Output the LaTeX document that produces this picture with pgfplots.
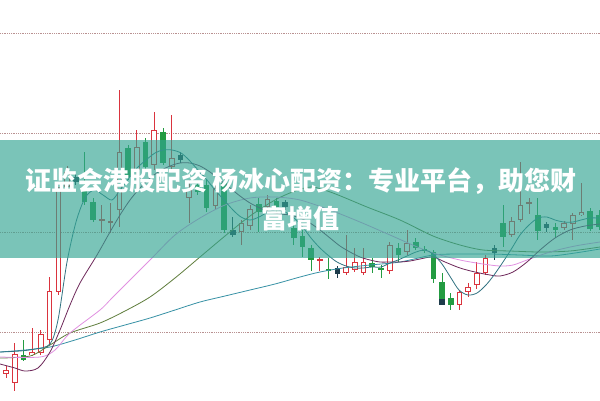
\documentclass[border=0pt]{standalone}
\usepackage{pgfplots}
\usepackage{pgfplotstable}
\pgfplotsset{compat=1.18}
\usepackage{fontspec}
\newfontfamily\cjk{Noto Sans CJK SC}
\definecolor{candred}{RGB}{218,52,62}
\definecolor{candgreen}{RGB}{35,155,65}
\definecolor{canddark}{RGB}{30,60,75}
\definecolor{gridc}{RGB}{185,145,145}
\definecolor{maA}{RGB}{50,115,130}
\definecolor{maB}{RGB}{110,40,90}
\definecolor{maC}{RGB}{225,145,225}
\definecolor{maD}{RGB}{95,125,60}
\definecolor{maE}{RGB}{55,145,165}
\definecolor{banner}{RGB}{51,165,146}

\pgfplotstableread{
x t b h l
6 370 374 366 378
14.7 354 383 343 391
32.2 352 355 328 356
40.9 334 353 330 355
49.6 291 340 277 345
58.3 187 292 187 295
67 172 187 166 190
101.9 219 221 205 233
110.6 221 223 203 233
119.4 152 210 90 227
136.8 147 170 130 190
154.2 130 165 112 170
171.7 158 167 115 172
189.1 190 198 180 223
215.3 188 206 183 210
241.4 223 232 220 245
250.2 209 226 205 230
267.6 199 207 195 212
319.9 259 261 257 271
346.1 267 273 235 275
354.8 262 270 248 272
363.5 262 273 248 275
389.7 245 271 242 274
407.1 243 252 230 255
459.4 292 305 290 310
468.2 287 292 283 297
476.9 273 285 262 289
485.6 258 273 255 275
511.8 221 235 217 237
520.5 205 220 162 222
529.2 202 204 198 214
564.1 223 228 221 230
572.8 215 224 213 240
581.5 212 215 183 216
}\redtab

\pgfplotstableread{
x t b h l
23.4 355 360 340 361
84.5 187 202 152 205
93.2 202 220 198 222
128.1 148 177 145 180
145.5 142 167 138 170
163 132 163 128 165
197.8 185 192 182 195
206.6 185 208 180 212
224 183 230 178 233
258.9 204 212 198 232
276.3 201 207 198 212
293.8 228 238 222 245
302.5 236 247 230 257
311.2 248 260 245 271
328.6 269 271 258 279
372.2 263 267 258 273
381 268 270 265 278
398.4 248 255 243 262
415.8 242 248 238 250
424.6 249 251 246 253
433.3 252 279 250 283
442 282 299 273 305
450.7 298 305 293 310
503 223 237 205 247
537.9 215 231 198 240
555.4 227 230 223 238
590.2 211 229 208 231
599 215 227 210 230
}\greentab

\pgfplotstableread{
x t b h l
75.8 177 182 174 185
180.4 155 160 152 163
232.7 230 235 217 237
285 202 207 200 210
337.4 268 274 266 278
494.3 248 253 245 260
546.6 224 228 222 232
442 299 305 299 305
}\darktab

\pgfplotsset{candle/.style={draw=none, mark=none, forget plot,
  error bars/.cd, y dir=both, y explicit, error mark=none}}

\begin{document}
\begin{tikzpicture}
\begin{axis}[
  scale only axis, width=600pt, height=400pt,
  xmin=0, xmax=600, ymin=0, ymax=400, y dir=reverse,
  hide axis, clip=true,
]
\fill[white] (rel axis cs:0,0) rectangle (rel axis cs:1,1);
% grid lines
\addplot[gridc, densely dotted, line width=0.8pt] coordinates {(0,33) (600,33)};
\addplot[gridc, densely dotted, line width=0.8pt] coordinates {(0,133) (600,133)};
\addplot[gridc, densely dotted, line width=0.8pt] coordinates {(0,232) (600,232)};
\addplot[gridc, densely dotted, line width=0.8pt] coordinates {(0,332) (600,332)};

% wicks
\addplot[candle, error bar style={line width=0.9pt, draw=candred, solid}]
  table[x=x, y expr=(\thisrow{h}+\thisrow{l})/2, y error expr=(\thisrow{l}-\thisrow{h})/2] {\redtab};
\addplot[candle, error bar style={line width=0.9pt, draw=candgreen, solid}]
  table[x=x, y expr=(\thisrow{h}+\thisrow{l})/2, y error expr=(\thisrow{l}-\thisrow{h})/2] {\greentab};
\addplot[candle, error bar style={line width=0.9pt, draw=canddark, solid}]
  table[x=x, y expr=(\thisrow{h}+\thisrow{l})/2, y error expr=(\thisrow{l}-\thisrow{h})/2] {\darktab};
% bodies
\addplot[candle, error bar style={line width=5.6pt, draw=candred, solid}]
  table[x=x, y expr=(\thisrow{t}+\thisrow{b})/2, y error expr={max((\thisrow{b}-\thisrow{t})/2,1)}] {\redtab};
\addplot[candle, error bar style={line width=3.6pt, draw=white, solid}]
  table[x=x, y expr=(\thisrow{t}+\thisrow{b})/2, y error expr={max((\thisrow{b}-\thisrow{t})/2-1,0)}] {\redtab};
\addplot[candle, error bar style={line width=5.6pt, draw=candgreen, solid}]
  table[x=x, y expr=(\thisrow{t}+\thisrow{b})/2, y error expr={max((\thisrow{b}-\thisrow{t})/2,1)}] {\greentab};
\addplot[candle, error bar style={line width=5.6pt, draw=canddark, solid}]
  table[x=x, y expr=(\thisrow{t}+\thisrow{b})/2, y error expr={max((\thisrow{b}-\thisrow{t})/2,1)}] {\darktab};

% moving averages
\addplot[maE, line width=0.8pt, smooth] coordinates {(0,352) (25,350) (50,347) (75,340) (100,332) (125,325) (150,318) (175,310) (200,302) (225,296) (250,290) (275,284) (300,277) (320,272) (343,268) (370,265) (400,262) (433,255) (460,254) (490,254) (520,255) (550,256) (575,253) (600,249)};
\addplot[maD, line width=0.8pt, smooth] coordinates {(0,358) (30,356) (50,345) (70,333) (100,323) (125,311) (150,297) (175,278) (200,257) (225,236) (250,216) (275,200) (295,191) (312,187) (333,193) (367,207) (400,220) (433,236) (460,245) (483,250) (510,251) (540,252) (570,251) (600,247)};
\addplot[maC, line width=0.8pt, smooth] coordinates {(0,357) (40,357) (55,350) (70,333) (100,310) (113,297) (150,260) (175,235) (200,218) (225,205) (250,198) (275,197) (300,200) (330,210) (360,222) (390,235) (415,246) (433,253) (460,260) (483,264) (500,266) (513,265) (527,260) (550,252) (575,246) (600,242)};
\addplot[maB, line width=0.8pt, smooth] coordinates {(0,364) (15,368) (25,371) (38,368) (50,352) (60,330) (70,305) (80,283) (97,255) (110,232) (120,215) (130,200) (140,188) (150,178) (160,171) (170,166) (180,163) (190,163) (200,166) (210,172) (220,180) (230,188) (240,196) (250,203) (260,208) (270,212) (280,214) (290,215) (300,218) (310,223) (320,230) (330,238) (340,246) (350,252) (360,257) (370,260) (380,262) (390,262) (400,262) (410,261) (420,259) (433,257) (445,262) (460,268) (475,272) (490,275) (500,276) (513,272) (527,262) (540,250) (555,238) (570,230) (585,226) (600,224)};
\addplot[maA, line width=0.8pt, smooth] coordinates {(0,352) (20,351) (35,349) (50,344) (58,320) (67,262) (76,222) (85,198) (94,190) (103,195) (112,200) (120,190) (129,178) (137,168) (146,160) (155,153) (163,150) (172,150) (181,153) (189,160) (198,170) (207,180) (215,190) (224,200) (233,210) (241,217) (250,220) (259,217) (268,212) (276,210) (285,212) (294,218) (302,226) (311,238) (320,248) (329,256) (337,262) (346,266) (355,268) (363,268) (372,267) (381,267) (390,263) (398,260) (407,256) (416,252) (425,250) (433,254) (442,264) (451,278) (459,290) (468,295) (477,293) (486,285) (494,275) (503,262) (512,248) (520,235) (529,225) (538,218) (547,217) (555,220) (564,222) (573,222) (581,220) (590,218) (600,218)};

% banner
\fill[banner, opacity=0.65] (axis cs:0,140) rectangle (axis cs:600,258);
\node[text=white, font={\cjk\bfseries\fontsize{26}{30}\selectfont}, inner sep=0pt] at (axis cs:301,181) {证监会港股配资 杨冰心配资：专业平台，助您财};
\node[text=white, font={\cjk\bfseries\fontsize{26}{30}\selectfont}, inner sep=0pt] at (axis cs:300,218) {富增值};
\end{axis}
\end{tikzpicture}
\end{document}
